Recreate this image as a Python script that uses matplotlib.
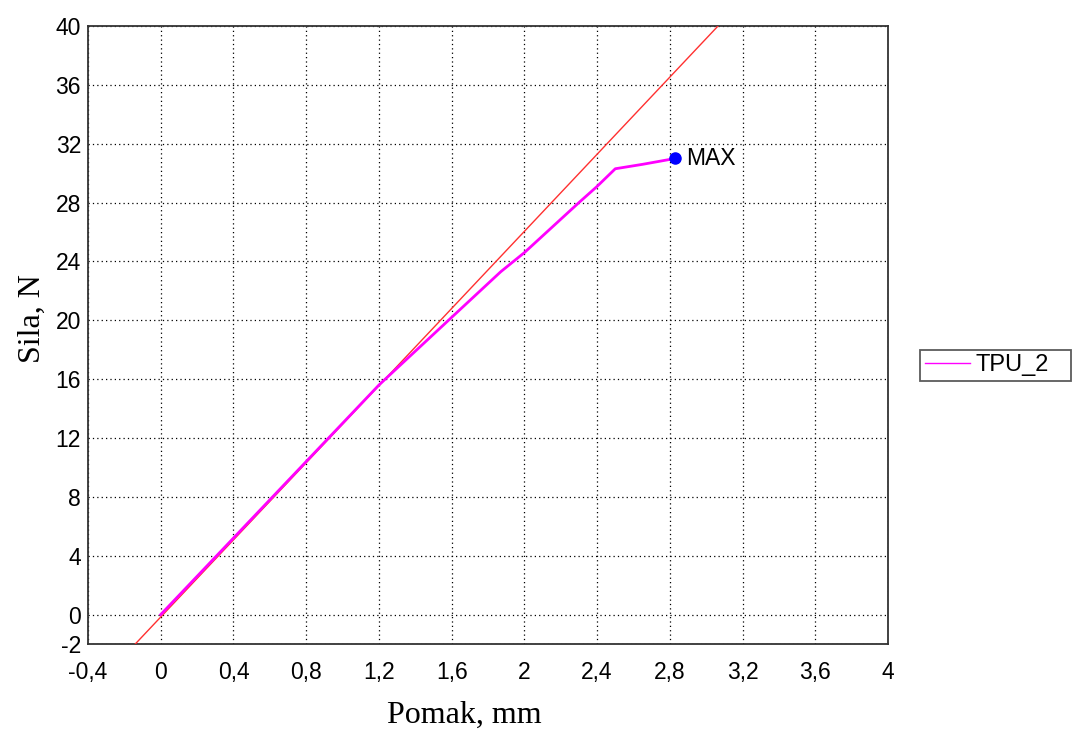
import matplotlib
matplotlib.use("Agg")
import matplotlib.pyplot as plt

# Data
tpu_x = [0.0, 0.4, 0.8, 1.2, 1.6, 1.87, 2.0, 2.3, 2.4, 2.5, 2.65, 2.83]
tpu_y = [0.0, 5.2, 10.4, 15.6, 20.2, 23.3, 24.6, 28.0, 29.1, 30.3, 30.6, 31.0]
fit_x = [-0.14, 3.065]
fit_y = [-2.0, 40.0]
max_x = 2.83
max_y = 31.0
x_ticks = [-0.4, 0, 0.4, 0.8, 1.2, 1.6, 2, 2.4, 2.8, 3.2, 3.6, 4]
x_labels = ["-0,4", "0", "0,4", "0,8", "1,2", "1,6", "2", "2,4", "2,8", "3,2", "3,6", "4"]
y_ticks = [-2, 0, 4, 8, 12, 16, 20, 24, 28, 32, 36, 40]
y_labels = [str(v) for v in y_ticks]

plt.rcParams['font.family'] = ['Liberation Sans', 'DejaVu Sans']

fig = plt.figure(figsize=(10.73, 7.31), dpi=100)
ax = fig.add_axes([0.082, 0.119, 0.7456, 0.8454])

ax.plot(fit_x, fit_y, color='#ff3030', lw=1.0, zorder=3)
ax.plot(tpu_x, tpu_y, color='#ff00ff', lw=2.0, zorder=4, label='TPU_2')
ax.plot([max_x], [max_y], 'o', color='#0000ff', ms=8, zorder=5)
ax.text(max_x + 0.06, max_y, 'MAX', fontsize=16.5, va='center', ha='left')

ax.set_xlim(-0.4, 4)
ax.set_ylim(-2, 40)
ax.set_xticks(x_ticks)
ax.set_xticklabels(x_labels)
ax.set_yticks(y_ticks)
ax.set_yticklabels(y_labels)
ax.tick_params(length=0, labelsize=16.5)
ax.tick_params(axis='x', pad=12)
ax.tick_params(axis='y', pad=5)
ax.grid(True, color='black', linestyle=(0, (1, 2.5)), lw=0.9)
for s in ax.spines.values():
    s.set_color('#333333')
    s.set_linewidth(1.3)

ax.set_xlabel('Pomak, mm', fontsize=23, family='Liberation Serif', labelpad=12, x=0.471)
ax.set_ylabel('Sila, N', fontsize=23, family='Liberation Serif', labelpad=6, y=0.527)

leg = ax.legend(loc='center left', bbox_to_anchor=(1.04, 0.451, 0.189, 0.0),
                mode='expand', fontsize=17,
                fancybox=False, frameon=True, handlelength=1.9, borderpad=0.2,
                handletextpad=0.25, borderaxespad=0.0)
leg.get_frame().set_edgecolor('#333333')
leg.get_frame().set_linewidth(1.3)
leg.get_lines()[0].set_linewidth(1.0)

fig.savefig('out.png', dpi=100)
